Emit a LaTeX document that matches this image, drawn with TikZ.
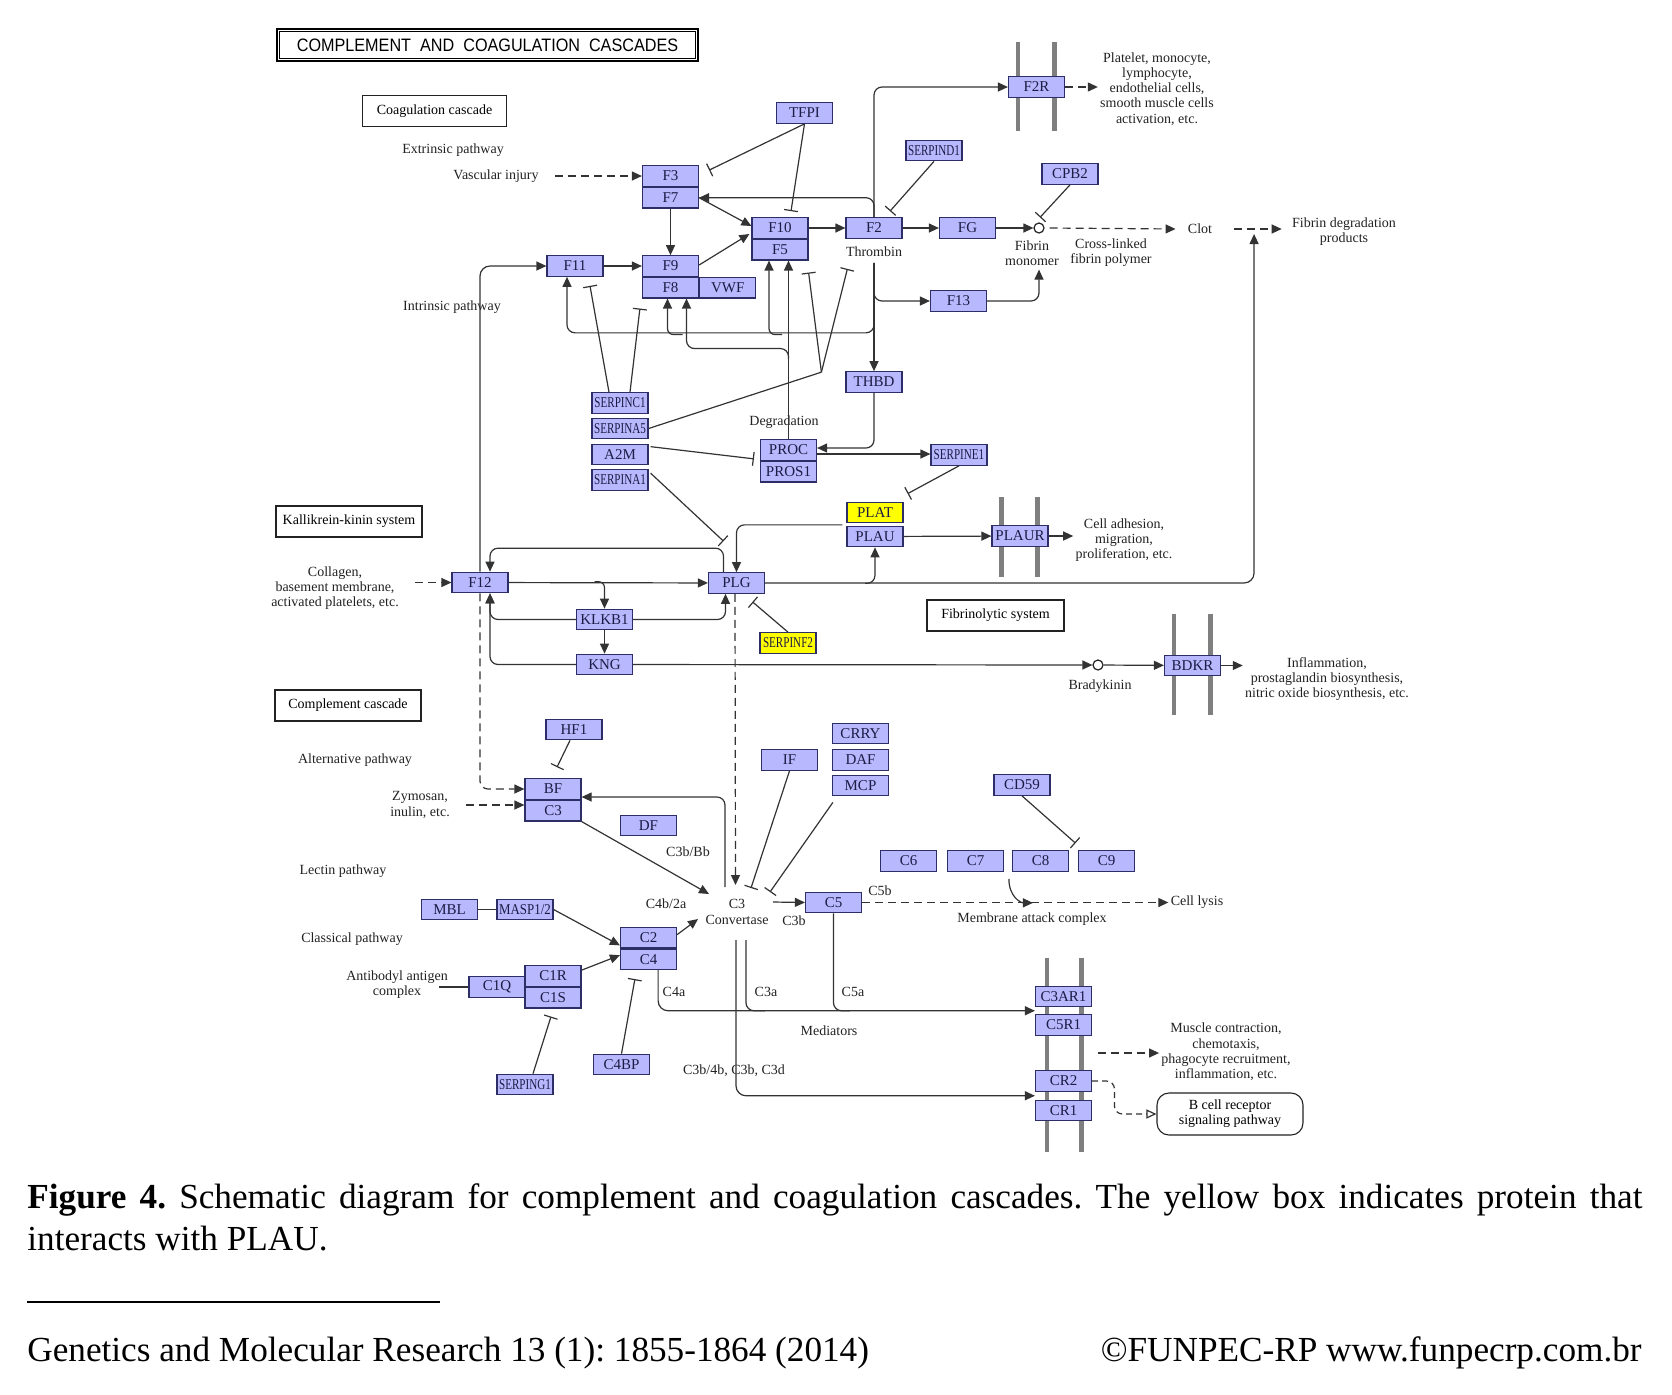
\documentclass[tikz,border=0pt]{standalone}
\usepackage{fontspec}
\setmainfont{Liberation Serif}
\newfontfamily\headfont{Liberation Sans}
\usepackage{graphicx}
\usetikzlibrary{arrows.meta,positioning,calc,backgrounds}
\definecolor{genefill}{HTML}{B8B8FF}
\definecolor{geneline}{HTML}{2E2E66}
\definecolor{genetext}{HTML}{1C1C44}
\definecolor{hityellow}{HTML}{FFFF00}
\definecolor{wire}{HTML}{333333}
\definecolor{ink}{HTML}{222222}
\definecolor{membgray}{HTML}{7F7F7F}
\newcommand{\narrowtext}[2][0.74]{\scalebox{#1}[1]{#2}}
\frenchspacing
\tikzset{
  gene/.style={draw=geneline,fill=genefill,line width=0.6pt,
               minimum width=28pt,minimum height=10.25pt,inner sep=0pt,
               font=\fontsize{7.5}{8}\selectfont,text=genetext},
  hitgene/.style={gene,fill=hityellow},
  lbl/.style={font=\fontsize{7}{7.6}\selectfont,align=center,inner sep=1pt,
              text=ink},
  mapbox/.style={draw=ink,line width=0.55pt,inner sep=0pt,
                 font=\fontsize{7}{7.6}\selectfont,minimum height=15.5pt},
  cpd/.style={circle,draw=ink,fill=white,line width=0.6pt,
              minimum size=5pt,inner sep=0pt},
  actarr/.style={-{Triangle[length=5pt,width=4.5pt]},line width=0.6pt,
                 draw=wire},
  inharr/.style={-{Bar[width=7pt]},line width=0.6pt,draw=wire},
  dasharr/.style={actarr,dash pattern=on 4pt off 2.5pt},
  opentip/.style={-{Triangle[open,length=5pt,width=4.5pt]},line width=0.6pt,
                  draw=wire,dash pattern=on 3pt off 2pt},
  plainline/.style={line width=0.6pt,draw=wire},
  membar/.style={line width=2.4pt,draw=membgray},
  captext/.style={anchor=base west,inner sep=0pt,
                  font=\fontsize{17.6}{20}\selectfont}
}
\begin{document}
\begin{tikzpicture}[x=0.5pt,y=-0.5pt]
  \path[use as bounding box] (0,0) rectangle (1672,1394);
  \begin{pgfonlayer}{background}
    \fill[white] (0,0) rectangle (1672,1394);
  \end{pgfonlayer}

  \node[draw=black,line width=1.4pt,minimum width=210.5pt,minimum height=16pt,
        inner sep=0pt,font=\headfont\fontsize{9}{10}\selectfont] (title) at (487.5,45)
    {\scalebox{0.9}[1]{COMPLEMENT\ \ AND\ \ COAGULATION\ \ CASCADES}};
  \draw[line width=0.5pt] ($(title.north west)+(3.5,3.5)$) rectangle ($(title.south east)+(-3.5,-3.5)$);

  \node[mapbox,minimum width=72pt] (coag) at (434.5,111) {Coagulation cascade};
  \node[mapbox,minimum width=73pt] (kallik) at (349,521.5) {Kallikrein-kinin system};
  \node[mapbox,minimum width=73pt] (compl) at (348,705.5) {Complement cascade};
  \node[mapbox,minimum width=68.5pt] (fibsys) at (995.5,615.5) {Fibrinolytic system};
  \node[mapbox,rounded corners=6pt,minimum width=73pt,minimum height=21pt,
        align=center] (bcr) at (1230,1114) {B cell receptor\\signaling pathway};

  % coagulation genes
  \node[gene] (F3) at (670.5,176) {F3};
  \node[gene,below=0pt of F3] (F7) {F7};
  \node[gene] (TFP1) at (804.5,113) {TFPI};
  \node[gene] (F10) at (780,228) {F10};
  \node[gene,below=0pt of F10] (F5) {F5};
  \node[gene] (F2) at (874,228) {F2};
  \node[gene] (FG) at (967.5,228) {FG};
  \node[gene] (SERPIND1) at (934,150.5) {\narrowtext{SERPIND1}};
  \node[gene] (CPB2) at (1070,174) {CPB2};
  \node[gene] (F2R) at (1036.5,87) {F2R};
  \node[gene] (F11) at (575,266) {F11};
  \node[gene] (F9) at (670.5,266) {F9};
  \node[gene,below=0pt of F9] (F8) {F8};
  \node[gene,right=0pt of F8] (VWF) {VWF};
  \node[gene] (F13) at (958.5,301) {F13};
  \node[gene] (THBD) at (874,382) {THBD};
  \node[gene] (SERPINC1) at (620,403) {\narrowtext{SERPINC1}};
  \node[gene] (SERPINA5) at (620,428.5) {\narrowtext{SERPINA5}};
  \node[gene] (A2M) at (620,454.5) {A2M};
  \node[gene] (SERPINA1) at (620,480) {\narrowtext{SERPINA1}};
  \node[gene] (PROC) at (788.5,450) {PROC};
  \node[gene,below=0pt of PROC] (PROS1) {PROS1};
  \node[gene] (SERPINE1) at (959,455) {\narrowtext{SERPINE1}};
  \node[hitgene] (PLAT) at (875,512.5) {PLAT};
  \node[gene] (PLAU) at (875,536.5) {PLAU};
  \node[gene] (PLAUR) at (1020,536) {PLAUR};
  \node[gene] (PLG) at (736.5,583) {PLG};
  \node[gene] (F12) at (480,582.5) {F12};
  \node[gene] (KLKB1) at (604.5,619.5) {KLKB1};
  \node[gene] (KNG) at (604.5,664.5) {KNG};
  \node[hitgene] (SERPINF2) at (788,643) {\narrowtext{SERPINF2}};
  \node[gene] (BDKR) at (1192.5,665.5) {BDKR};

  % complement genes
  \node[gene] (HF1) at (574,729.5) {HF1};
  \node[gene] (BF) at (553,789) {BF};
  \node[gene,below=0pt of BF] (C3) {C3};
  \node[gene] (DF) at (648.5,825.5) {DF};
  \node[gene] (IF) at (789.5,760) {IF};
  \node[gene] (CRRY) at (860.5,733.5) {CRRY};
  \node[gene] (DAF) at (860.5,760) {DAF};
  \node[gene] (MCP) at (860.5,785.5) {MCP};
  \node[gene] (CD59) at (1022,785) {CD59};
  \foreach \nm/\x in {C6/908.5,C7/975.5,C8/1040.5,C9/1106.5}
    \node[gene] (\nm) at (\x,861) {\nm};
  \node[gene] (C5) at (833.5,902.5) {C5};
  \node[gene] (MBL) at (449.5,909.5) {MBL};
  \node[gene] (MASP) at (525,909.5) {\narrowtext[0.86]{MASP1/2}};
  \node[gene] (C2) at (648.5,937.5) {C2};
  \node[gene,below=0pt of C2] (C4) {C4};
  \node[gene] (C1Q) at (497,987) {C1Q};
  \node[gene] (C1R) at (553,976) {C1R};
  \node[gene,below=0pt of C1R] (C1S) {C1S};
  \node[gene] (C4BP) at (621.5,1064.5) {C4BP};
  \node[gene] (SERPING1) at (525,1084.5) {\narrowtext{SERPING1}};
  \node[gene] (C3AR1) at (1063.5,996.5) {C3AR1};
  \node[gene] (C5R1) at (1063.5,1025) {C5R1};
  \node[gene] (CR2) at (1063.5,1081) {CR2};
  \node[gene] (CR1) at (1063.5,1110.5) {CR1};

  % compounds and labels
  \node[cpd] (fm) at (1039,228) {};
  \node[cpd] (bk) at (1098,665) {};
  \node[lbl] (extr) at (453,150) {Extrinsic pathway};
  \node[lbl] (vasc) at (496,176) {Vascular injury};
  \node[lbl] (intr) at (452,307) {Intrinsic pathway};
  \node[lbl] (thromb) at (874,252) {Thrombin};
  \node[lbl] (fmlbl) at (1032,253) {Fibrin\\monomer};
  \node[lbl] (xlink) at (1111,253) {Cross-linked\\fibrin polymer};
  \node[lbl] (clot) at (1200,229) {Clot};
  \node[lbl] (fdp) at (1344,232) {Fibrin degradation\\products};
  \node[lbl] (plt) at (1157,89) {Platelet, monocyte,\\lymphocyte,\\endothelial cells,\\smooth muscle cells\\activation, etc.};
  \node[lbl] (degr) at (784,422) {Degradation};
  \node[lbl] (celladh) at (1124,540) {Cell adhesion,\\migration,\\proliferation, etc.};
  \node[lbl] (coll) at (335,588) {Collagen,\\basement membrane,\\activated platelets, etc.};
  \node[lbl] (bklbl) at (1100,686) {Bradykinin};
  \node[lbl] (infl) at (1327,679) {Inflammation,\\prostaglandin biosynthesis,\\nitric oxide biosynthesis, etc.};
  \node[lbl] (alt) at (355,760) {Alternative pathway};
  \node[lbl] (zym) at (420,805) {Zymosan,\\inulin, etc.};
  \node[lbl] (c3bbb) at (688,852) {C3b/Bb};
  \node[lbl] (lect) at (343,871) {Lectin pathway};
  \node[lbl] (class) at (352,939) {Classical pathway};
  \node[lbl] (antib) at (397,985) {Antibodyl antigen\\complex};
  \node[lbl] (c4b2a) at (666,904) {C4b/2a};
  \node[lbl] (conv) at (737,912) {C3\\Convertase};
  \node[lbl] (c3b) at (794,921) {C3b};
  \node[lbl] (c5b) at (880,891) {C5b};
  \node[lbl] (mac) at (1032,919) {Membrane attack complex};
  \node[lbl] (lysis) at (1197,902) {Cell lysis};
  \node[lbl] (c4a) at (674,992) {C4a};
  \node[lbl] (c3a) at (766,992) {C3a};
  \node[lbl] (c5a) at (853,992) {C5a};
  \node[lbl] (medi) at (829,1031) {Mediators};
  \node[lbl] (c3d) at (734,1071) {C3b/4b, C3b, C3d};
  \node[lbl] (musc) at (1226,1052) {Muscle contraction,\\chemotaxis,\\phagocyte recruitment,\\inflammation, etc.};

  \begin{pgfonlayer}{background}
    \foreach \r/\up/\dn in {F2R/34/33,PLAUR/28/30,BDKR/41/39}{
      \draw[membar] ($(\r.north west)+(10,-\up)$) -- ($(\r.south west)+(10,\dn)$);
      \draw[membar] ($(\r.north east)+(-11,-\up)$) -- ($(\r.south east)+(-11,\dn)$);
    }
    \draw[membar] ($(C3AR1.north west)+(12,-28)$) -- ($(CR1.south west)+(12,31)$);
    \draw[membar] ($(C3AR1.north east)+(-11,-28)$) -- ($(CR1.south east)+(-11,31)$);
  \end{pgfonlayer}

  \coordinate (thr) at ($(F2.south)+(0,24)$);
  \coordinate (vtip) at ($(THBD.north west)+(-24,1)$);
  \coordinate (fdj) at ($(clot.east)!0.5!(clot.east -| fdp.west)+(2,5)$);
  \coordinate (med) at ($(C3AR1.south west)!0.5!(C5R1.north west)$);
  \coordinate (crj) at ($(CR2.south west)!0.5!(CR1.north west)$);
  \coordinate (mj) at ($(C5R1.south east)!0.5!(CR2.north east)$);

  % extrinsic / common pathway
  \draw[dasharr] ($(vasc.east)+(14,0)$) -- (vasc.east -| F3.west);
  \draw[inharr] (TFP1.south) -- ($(F3.north east)+(10,5)$);
  \draw[inharr] (TFP1.south) -- ($(F10.north)+(11,-6)$);
  \draw[actarr] (F7.east) -- ($(F10.west)+(0,-2)$);
  \draw[actarr] ($(F9.east)+(0,-1)$) -- ($(F10.west)+(-2,6)$);
  \draw[actarr] (F7) -- (F9);
  \draw[actarr] (F11) -- (F9);
  \draw[actarr] (F10) -- (F2);
  \draw[actarr] (F2) -- (FG);
  \draw[actarr] (FG) -- (fm);
  \draw[dasharr] ($(fm.east)+(5,0)$) -- ($(clot.west)+(-10,0)$);
  \draw[dasharr] ($(clot.east)+(20,0)$) -- ($(clot.east -| fdp.west)+(-8,0)$);
  \draw[inharr] (SERPIND1.south) -- ($(F2.north)+(16,-6)$);
  \draw[inharr] (CPB2.south) -- ($(fm.north)+(1,-5)$);
  \draw[actarr,rounded corners=4pt] (F2.north) |- (F2R.west);
  \draw[actarr,rounded corners=4pt] (F2.north) |- (F7.east);
  \draw[dasharr] (F2R.east) -- (F2R.east -| plt.west);
  \draw[actarr] (thr) -- (THBD.north);
  \draw[actarr,rounded corners=4pt] (thr) |- (F13.west);
  \draw[actarr,rounded corners=4pt] (thr) |- ($(F11.south)+(-8,56)$) -- ($(F11.south)+(-8,0)$);
  \draw[actarr,rounded corners=3pt] ($(F8.south)+(12,36)$) -| ($(F8.south)+(-3,0)$);
  \draw[actarr,rounded corners=3pt] ($(F5.south)+(2,74)$) -| ($(F5.south)+(-11,0)$);
  \draw[actarr] (PROC.north) -- (PROC.north |- F5.south);
  \draw[actarr,rounded corners=4pt] ($(PROC.north)+(0,-80)$) |- ($(F8.south)+(16,50)$) -- ($(F8.south)+(16,0)$);
  \draw[actarr,rounded corners=4pt] (F13.east) -| ($(fm.south)+(0,36)$);

  % inhibitors
  \draw[inharr] ($(SERPINC1.north)+(-11,0)$) -- ($(F11.south)+(15,9)$);
  \draw[inharr] ($(SERPINC1.north)+(10,0)$) -- ($(F8.south west)+(-2,10)$);
  \draw[plainline] (SERPINA5.east) -- (vtip);
  \draw[inharr] (vtip) -- ($(F5.south east)+(0,12)$);
  \draw[inharr] (vtip) -- ($(F2.south west)+(2,30)$);
  \draw[inharr] ($(A2M.north east)+(2,3)$) -- ($(PROC.south west)+(-6,-2)$);
  \draw[inharr] ($(SERPINA1.north east)+(2,4)$) -- ($(PLG.north)+(-13,-31)$);
  \draw[actarr,rounded corners=4pt] (THBD.south) |- ($(PROC.east)+(0,-2)$);
  \draw[actarr] ($(PROC.east)+(0,4)$) -- ($(PROC.east -| SERPINE1.west)+(0,4)$);
  \draw[inharr] (SERPINE1.south) -- ($(PLAT.north east)+(4,-8)$);

  % fibrinolysis and kallikrein-kinin
  \draw[actarr,rounded corners=4pt] ($(PLAT.south west)+(-4,1.5)$) -| (PLG.north);
  \draw[actarr] (PLAU) -- (PLAUR);
  \draw[actarr] (PLAUR.east) -- (PLAUR.east -| celladh.west);
  \draw[dasharr] ($(coll.east |- F12.west)+(14,0)$) -- (F12.west);
  \draw[actarr] (F12) -- (PLG);
  \draw[actarr,rounded corners=5pt] (PLG.east) -| (fdj);
  \draw[actarr,rounded corners=4pt] ($(PLAU.south)+(-10,36)$) -| (PLAU.south);
  \draw[actarr,rounded corners=4pt] ($(PLG.north)+(-13,0)$) -- ($(PLG.north)+(-13,-24)$) -| ($(F12.north)+(10,0)$);
  \draw[actarr,rounded corners=5pt] (F12.north) |- (F11.west);
  \draw[actarr,rounded corners=3pt] ($(KLKB1.north)+(-10,-27)$) -| (KLKB1.north);
  \draw[actarr] (KLKB1) -- (KNG);
  \draw[actarr,rounded corners=4pt] (KLKB1.west) -| ($(F12.south)+(10,0)$);
  \draw[actarr,rounded corners=4pt] (KNG.west) -| ($(F12.south)+(10,0)$);
  \draw[actarr,rounded corners=4pt] (KLKB1.east) -| ($(PLG.south)+(-11,0)$);
  \draw[actarr] (KNG) -- (bk);
  \draw[actarr] (bk) -- (BDKR);
  \draw[actarr] (BDKR.east) -- (BDKR.east -| infl.west);
  \draw[inharr] (SERPINF2.north) -- ($(PLG.south)+(16,8)$);

  % complement
  \draw[dasharr,rounded corners=4pt] (F12.south) |- (BF.west);
  \draw[dasharr] ($(zym.east)+(14,0)$) -- (zym.east -| C3.west);
  \draw[inharr] ($(HF1.south)+(-4,0)$) -- ($(BF.north)+(4,-11)$);
  \draw[actarr,rounded corners=4pt] ($(conv)+(-12,-25)$) |- ($(BF.east)+(0,8)$);
  \draw[dasharr] ($(PLG.south)+(-1.5,0)$) -- ($(conv)+(-1.5,-27)$);
  \draw[actarr] (C3.south east) -- ($(conv)+(-28,-18)$);
  \draw[plainline] (MBL) -- (MASP);
  \draw[actarr] (MASP.east) -- ($(C2.south west)+(0,-3)$);
  \draw[actarr] ($(C1R.north east)+(0,5)$) -- ($(C4.west)+(0,-4)$);
  \draw[actarr] ($(C2.north east)+(0,8)$) -- ($(conv)+(-39,7)$);
  \draw[plainline] ($(C1Q.west)+(-29,0)$) -- (C1Q.west);
  \draw[inharr] ($(SERPING1.north)+(8,0)$) -- ($(C1S.south)+(-2,8)$);
  \draw[inharr] (C4BP.north) -- ($(C4.south west)+(15,9)$);
  \draw[inharr] (IF.south) -- ($(conv)+(14,-24)$);
  \draw[inharr] ($(MCP.south west)+(1,6)$) -- ($(conv)+(33,-20)$);
  \draw[actarr] ($(conv)+(36,-10)$) -- (C5.west);
  \draw[dasharr] (C5.east) -- (C5.east -| lysis.west);
  \draw[actarr] ($(C8.south west)+(-3,7)$) .. controls +(0,18) and +(-12,0) .. ($(C8.south west)+(21,31)$);
  \draw[inharr] (CD59.south) -- ($(C8.north east)!0.5!(C9.north west)+(2,-7)$);
  \draw[actarr,rounded corners=5pt] ($(C4.south east)+(-19,0)$) |- (med);
  \draw[plainline,rounded corners=4pt] ($(conv)+(9,28)$) |- ($(med)+(-270,0)$);
  \draw[plainline,rounded corners=4pt] (C5.south) |- ($(med)+(-185,0)$);
  \draw[actarr,rounded corners=5pt] ($(conv)+(-1,28)$) |- (crj);
  \draw[dasharr] ($(mj)+(6,0)$) -- (mj -| musc.west);
  \draw[opentip,rounded corners=4pt] (CR2.east) -| ($(bcr.west)+(-42,0)$) -- (bcr.west);

  % caption
  \node[captext] (cap1) at (27,1208)
    {\makebox[807.5pt][s]{\textbf{Figure 4.} Schematic diagram for complement and coagulation cascades. The yellow box indicates protein that}};
  \node[captext] (cap2) at (27,1250) {interacts with PLAU.};
  \draw[line width=1pt] (27,1302) -- (440,1302);
  \node[captext] (journal) at (27,1361) {Genetics and Molecular Research 13 (1): 1855-1864 (2014)};
  \node[captext,anchor=base east] (funpec) at (1642,1361) {\textcopyright FUNPEC-RP www.funpecrp.com.br};
\end{tikzpicture}
\end{document}
